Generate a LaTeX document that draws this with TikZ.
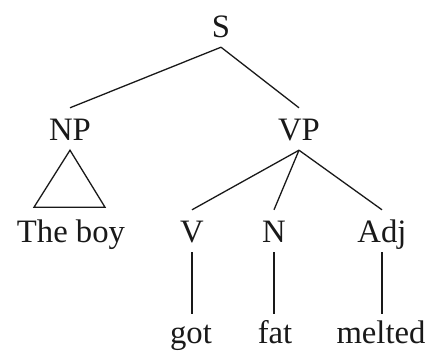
\documentclass[tikz,border=0pt]{standalone}
\usepackage{fontspec}
\setmainfont{Liberation Serif}
\begin{document}
\begin{tikzpicture}[x=1pt,y=-1pt,
  lab/.style={anchor=base,inner xsep=0pt,inner ysep=10pt,text height=22pt,text depth=0pt,
    font=\fontsize{32.7}{39}\selectfont,text=black!90},
  edge/.style={draw=black!90,line width=1.3pt}]
\useasboundingbox (0,0) rectangle (429,351);
\node[lab] (S)   at (221,37)  {S};
\node[lab] (NP)  at (70,140)  {NP};
\node[lab] (VP)  at (299,140) {VP};
\node[lab] (boy) at (71,242)  {The boy};
\node[lab] (V)   at (192,242) {V};
\node[lab] (N)   at (274,242) {N};
\node[lab] (Adj) at (382,242) {Adj};
\node[lab] (got) at (191,343) {got};
\node[lab] (fat) at (275,343) {fat};
\node[lab] (mel) at (381,343) {melted};
\draw[edge] (S.south) -- (NP.north);
\draw[edge] (S.south) -- (VP.north);
\draw[edge] (NP.south) -- ++(-36,57) -- ++(71,0) -- cycle;
\draw[edge] (VP.south) -- (V.north);
\draw[edge] (VP.south) -- (N.north);
\draw[edge] (VP.south) -- (Adj.north);
\draw[edge] (V.south) -- ([yshift=-3pt]V.south |- got.north);
\draw[edge] (N.south) -- ([yshift=-3pt]N.south |- fat.north);
\draw[edge] (Adj.south) -- ([yshift=-3pt]Adj.south |- mel.north);
\end{tikzpicture}
\end{document}
